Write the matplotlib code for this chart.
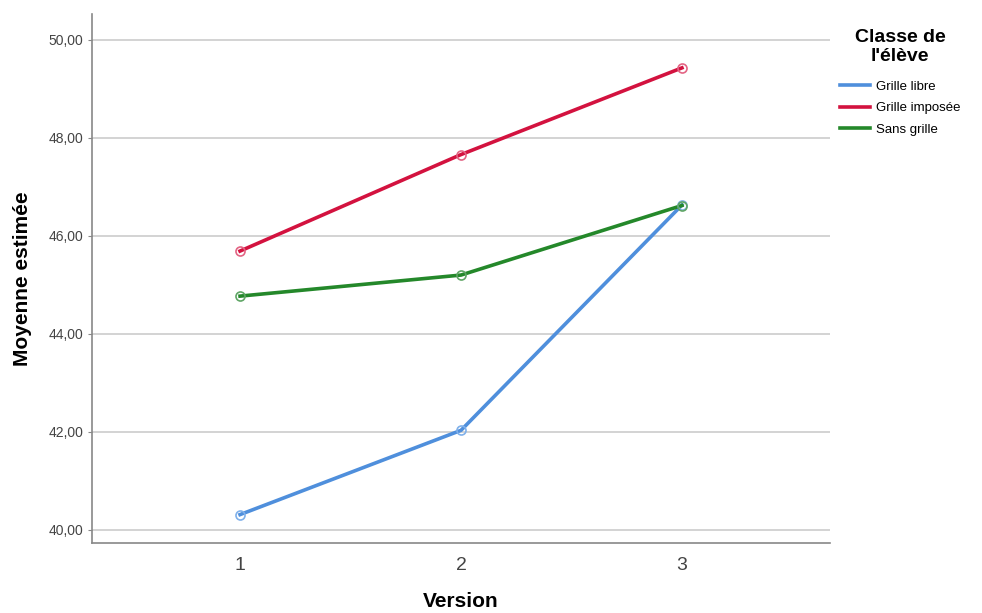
import matplotlib
matplotlib.use("Agg")
import matplotlib.pyplot as plt

plt.rcParams['font.family'] = ['Liberation Sans', 'DejaVu Sans']

versions = [1, 2, 3]
grille_libre = [40.31, 42.03, 46.63]
grille_imposee = [45.69, 47.66, 49.43]
sans_grille = [44.77, 45.20, 46.62]
series = [
    ("Grille libre", grille_libre, "#4f8fdc", "#7fb0ea"),
    ("Grille imposée", grille_imposee, "#d3123f", "#e36484"),
    ("Sans grille", sans_grille, "#24882a", "#5fa565"),
]
yticks = [40, 42, 44, 46, 48, 50]

fig = plt.figure(figsize=(9.82, 6.13), dpi=100)
ax = fig.add_axes([0.0937, 0.1142, 0.7515, 0.8630])

for name, vals, col, mcol in series:
    ax.plot(versions, vals, color=col, lw=2.6, label=name, zorder=3)
    ax.plot(versions, vals, ls='none', marker='o', ms=6.5, mfc='none',
            mec=mcol, mew=1.2, zorder=4)

ax.set_xlim(0.33, 3.67)
ax.set_ylim(39.73, 50.53)
ax.set_yticks(yticks)
ax.set_yticklabels([f"{v:.2f}".replace('.', ',') for v in yticks],
                   fontsize=10, color='#444444')
ax.set_xticks(versions)
ax.set_xticklabels([str(v) for v in versions], fontsize=14, color='#444444')
ax.tick_params(axis='x', length=0, pad=10)
ax.tick_params(axis='y', length=3, color='#888888', pad=3)
ax.grid(axis='y', color='#cccccc', lw=1.2)
ax.set_axisbelow(True)
for s in ['top', 'right']:
    ax.spines[s].set_visible(False)
for s in ['left', 'bottom']:
    ax.spines[s].set_color('#888888')
    ax.spines[s].set_linewidth(1.2)

ax.set_ylabel("Moyenne estimée", fontsize=15, fontweight='bold', labelpad=12)
ax.set_xlabel("Version", fontsize=15, fontweight='bold', labelpad=13)

leg = fig.legend(loc='upper left', bbox_to_anchor=(828 / 982, 1 - 17 / 613),
                 frameon=False, title="Classe de\nl'élève", fontsize=9.5,
                 handlelength=2.3, handletextpad=0.45, labelspacing=0.7)
leg.get_title().set_fontweight('bold')
leg.get_title().set_fontsize(14)
leg.get_title().set_multialignment('center')
leg.get_title().set_linespacing(1.2)
leg._legend_box.sep = 11  # extra gap between title and entries

fig.savefig("out.png", dpi=100)
